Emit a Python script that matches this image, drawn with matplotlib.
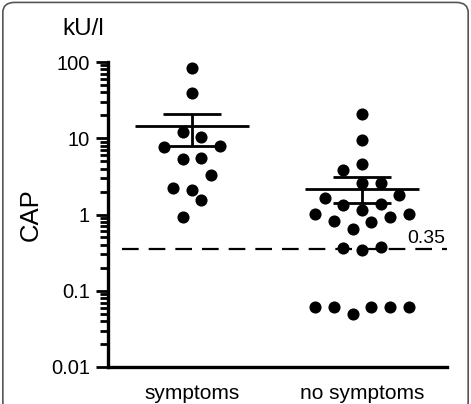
import numpy as np
import matplotlib.pyplot as plt
from matplotlib.patches import FancyBboxPatch
from matplotlib.ticker import LogLocator, NullFormatter

plt.rcParams['font.family'] = ['Liberation Sans', 'DejaVu Sans']

# categorie e valori (kU/l)
groups = ["symptoms", "no symptoms"]
symptoms = [83, 39, 12, 10.3, 7.6, 7.9, 5.4, 5.5, 3.3, 2.2, 2.1, 1.56, 0.92]
no_symptoms = [21, 9.6, 4.57, 3.8, 2.6, 2.6, 1.65, 1.79, 1.35, 1.14, 1.38,
               1.03, 1.03, 0.82, 0.79, 0.92, 0.64, 0.36, 0.34, 0.37,
               0.061, 0.061, 0.050, 0.061, 0.061, 0.061]
# posizione orizzontale dei punti (in passi dello sciame)
symptoms_slot = [0, 0, -1, 1, -3, 3, -1, 1, 2, -2, 0, 1, -1]
no_symptoms_slot = [0, 0, 0, -2, 0, 2, -4, 4, -2, 0, 2, -5, 5, -3, 1, 3, -1,
                    -2, 0, 2, -5, -3, -1, 1, 3, 5]
# media e SEM
means = [14.3, 2.17]
sem_hi = [20.7, 3.1]
sem_lo = [7.8, 1.42]
cutoff = 0.35

fig = plt.figure(figsize=(4.71, 4.04), dpi=100)
ax = fig.add_axes([108/471, 1-367/404, (447-108)/471, (367-62)/404])

step = 0.055
for i, (vals, slots) in enumerate([(symptoms, symptoms_slot),
                                   (no_symptoms, no_symptoms_slot)]):
    xs = i + np.array(slots) * step
    ax.scatter(xs, vals, s=76, color='black', zorder=3, linewidths=0)
    ax.hlines(means[i], i - 0.335, i + 0.335, color='black', lw=2, zorder=4)
    ax.hlines([sem_hi[i], sem_lo[i]], i - 0.17, i + 0.17, color='black', lw=2, zorder=4)
    ax.vlines(i, sem_lo[i], sem_hi[i], color='black', lw=2, zorder=4)

ax.axhline(cutoff, xmin=(122-108)/(447-108), xmax=1, color='black', lw=1.6,
           dashes=(7.5, 4.5), zorder=2)
ax.text(1.49, cutoff * 1.08, "0.35", ha='right', va='bottom', fontsize=14)

ax.set_yscale('log')
ax.set_ylim(0.01, 100)
ax.set_xlim(-0.494, 1.5)
ax.set_yticks([0.01, 0.1, 1, 10, 100])
ax.set_yticklabels(["0.01", "0.1", "1", "10", "100"])
ax.yaxis.set_minor_locator(LogLocator(base=10, subs=np.arange(2, 10)))
ax.yaxis.set_minor_formatter(NullFormatter())
ax.tick_params(axis='y', which='major', length=9, width=2, labelsize=14.5, pad=4)
ax.tick_params(axis='y', which='minor', length=6, width=2)
ax.set_xticks([0, 1])
ax.set_xticklabels(groups, fontsize=15)
ax.tick_params(axis='x', length=0, pad=12)

for s in ['top', 'right']:
    ax.spines[s].set_visible(False)
for s in ['left', 'bottom']:
    ax.spines[s].set_linewidth(2.4)

ax.set_ylabel("CAP", fontsize=18.5, labelpad=6)
fig.text(62/471, 1-35/404, "kU/l", fontsize=17.5, va='baseline', ha='left')

frame = FancyBboxPatch((0.006, -0.02), 0.988, 1.014,
                       boxstyle="round,pad=0,rounding_size=0.025",
                       transform=fig.transFigure, fill=False, ec='#555555', lw=1.2)
fig.patches.append(frame)

fig.savefig("out.png", dpi=100)
